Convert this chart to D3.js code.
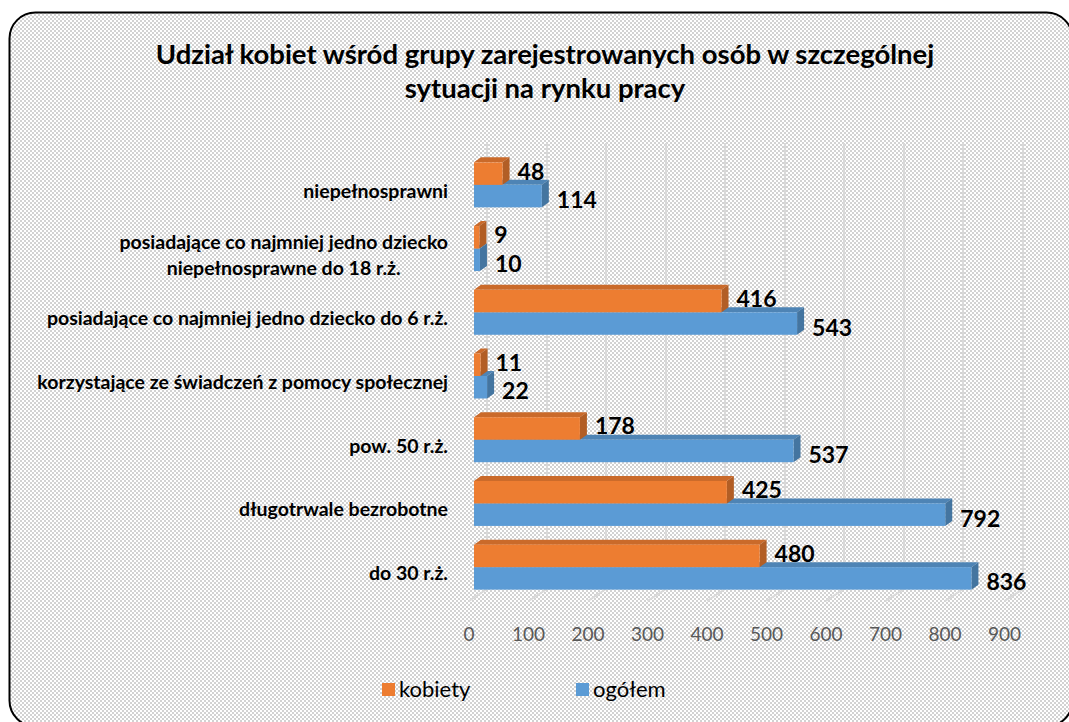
<!DOCTYPE html>
<html>
<head>
<meta charset="utf-8">
<script src="https://cdn.jsdelivr.net/npm/d3@7"></script>
<style>
  html, body { margin: 0; padding: 0; background: #fff; }
  svg { display: block; }
</style>
</head>
<body>
<svg id="draw"></svg>
<script>
// categories top to bottom, as on the chart
var categories = [
  "niepełnosprawni",
  "posiadające co najmniej jedno dziecko|niepełnosprawne do 18 r.ż.",
  "posiadające co najmniej jedno dziecko do 6 r.ż.",
  "korzystające ze świadczeń z pomocy społecznej",
  "pow. 50 r.ż.",
  "długotrwale bezrobotne",
  "do 30 r.ż."
];
var kobiety = [48, 9, 416, 11, 178, 425, 480];
var ogolem = [114, 10, 543, 22, 537, 792, 836];
var xTicks = [0, 100, 200, 300, 400, 500, 600, 700, 800, 900];
var seriesNames = ["kobiety", "ogółem"];
var seriesColors = ["#ED7D31", "#5B9BD5"];

var width = 1069, height = 722;
var font = "Lato, 'Open Sans', sans-serif";

var svg = d3.select("#draw")
  .attr("width", width)
  .attr("height", height);

// checker background like the excel pattern fill
var defs = svg.append("defs");
var pat = defs.append("pattern")
  .attr("id", "checker")
  .attr("width", 4).attr("height", 4)
  .attr("patternUnits", "userSpaceOnUse");
pat.append("rect").attr("width", 4).attr("height", 4).attr("fill", "#ffffff");
pat.append("rect").attr("width", 2).attr("height", 2).attr("fill", "#d2d2d2");
pat.append("rect").attr("x", 2).attr("y", 2).attr("width", 2).attr("height", 2).attr("fill", "#d2d2d2");

svg.append("rect")
  .attr("x", 9.5).attr("y", 12.5)
  .attr("width", 1063).attr("height", 714)
  .attr("rx", 26).attr("ry", 26)
  .attr("fill", "url(#checker)")
  .attr("stroke", "#000")
  .attr("stroke-width", 2);

// title
var title = svg.append("text")
  .attr("text-anchor", "middle")
  .style("font-family", font)
  .style("font-weight", "bold")
  .style("font-size", "27.5px")
  .attr("fill", "#000");
title.append("tspan").attr("x", 545).attr("y", 64)
  .text("Udział kobiet wśród grupy zarejestrowanych osób w szczególnej");
title.append("tspan").attr("x", 545).attr("y", 98)
  .text("sytuacji na rynku pracy");

// scales
var x = d3.scaleLinear().domain([0, 900]).range([474, 1009.5]);
var y = d3.scaleBand().domain(categories).range([153, 599])
  .paddingInner(0.294).paddingOuter(0.147);
var bw = y.bandwidth() / 2;

var depthX = 7, depthY = -5;   // bar depth
var backX = 13;                // back wall offset

// gridlines on the back wall + floor
var grid = svg.append("g").attr("stroke", "#d9d9d9").attr("stroke-width", 2);
grid.selectAll(".gv")
  .data(xTicks)
  .enter().append("line")
  .attr("x1", d => Math.round(x(d) + backX)).attr("x2", d => Math.round(x(d) + backX))
  .attr("y1", 143).attr("y2", 589);
grid.selectAll(".gf")
  .data(xTicks)
  .enter().append("line")
  .attr("x1", d => Math.round(x(d) + backX)).attr("x2", d => x(d) - 5)
  .attr("y1", 589).attr("y2", 601);

// axis tick labels
svg.append("g").selectAll("text")
  .data(xTicks)
  .enter().append("text")
  .attr("x", d => x(d) - 5)
  .attr("y", 641)
  .attr("text-anchor", "middle")
  .style("font-family", font)
  .style("font-size", "19px")
  .attr("fill", "#595959")
  .text(d => d);

// category labels
var catG = svg.append("g");
categories.forEach(function(c) {
  var lines = c.split("|");
  var cy = y(c) + bw + 7;
  var t = catG.append("text")
    .style("font-family", font)
    .style("font-weight", "bold")
    .style("font-size", "19.5px")
    .attr("fill", "#000");
  if (lines.length == 1) {
    t.attr("text-anchor", "end").attr("x", 448).attr("y", cy + 6).text(c);
  } else {
    // two line label: centered block, right edge at 448
    t.attr("text-anchor", "middle");
    t.append("tspan").attr("x", 0).attr("y", cy - 13 + 6).text(lines[0]);
    t.append("tspan").attr("x", 0).attr("y", cy + 13 + 6).text(lines[1]);
    var w = t.node().getBBox().width;
    t.selectAll("tspan").attr("x", 448 - w / 2);
  }
});

// one 3d bar: front, top and side
function bar3d(g, x0, x1, y0, h, color) {
  var c = d3.color(color);
  var top = c.darker(0.45).formatHex();
  var side = c.darker(0.8).formatHex();
  g.append("path")
    .attr("d", "M" + x0 + "," + y0 + "L" + (x0 + depthX) + "," + (y0 + depthY) +
      "L" + (x1 + depthX) + "," + (y0 + depthY) + "L" + x1 + "," + y0 + "Z")
    .attr("fill", top);
  g.append("path")
    .attr("d", "M" + x1 + "," + y0 + "L" + (x1 + depthX) + "," + (y0 + depthY) +
      "L" + (x1 + depthX) + "," + (y0 + h + depthY) + "L" + x1 + "," + (y0 + h) + "Z")
    .attr("fill", side);
  g.append("rect")
    .attr("x", x0).attr("y", y0)
    .attr("width", x1 - x0).attr("height", h)
    .attr("fill", color);
}

var barsG = svg.append("g");
categories.forEach(function(c, i) {
  // blue first, orange drawn over its top face
  bar3d(barsG, x(0), x(ogolem[i]), y(c) + bw, bw, seriesColors[1]);
  bar3d(barsG, x(0), x(kobiety[i]), y(c), bw, seriesColors[0]);
});

// data labels
var labG = svg.append("g")
  .style("font-family", font)
  .style("font-weight", "bold")
  .style("font-size", "23px")
  .attr("fill", "#000");
[kobiety, ogolem].forEach(function(vals, s) {
  labG.selectAll(".lab" + s)
    .data(vals)
    .enter().append("text")
    .attr("x", d => x(d) + 15)
    .attr("y", (d, i) => y(categories[i]) + s * bw + bw / 2 + (s == 0 ? 6 : 12))
    .text(d => d);
});

// legend
var leg = svg.append("g");
var legX = [382, 576];
seriesNames.forEach(function(n, i) {
  leg.append("rect")
    .attr("x", legX[i]).attr("y", 683)
    .attr("width", 13).attr("height", 13)
    .attr("fill", seriesColors[i]);
  leg.append("text")
    .attr("x", legX[i] + 17).attr("y", 697)
    .style("font-family", font)
    .style("font-size", "22px")
    .attr("fill", "#000")
    .text(n);
});
</script>
</body>
</html>
